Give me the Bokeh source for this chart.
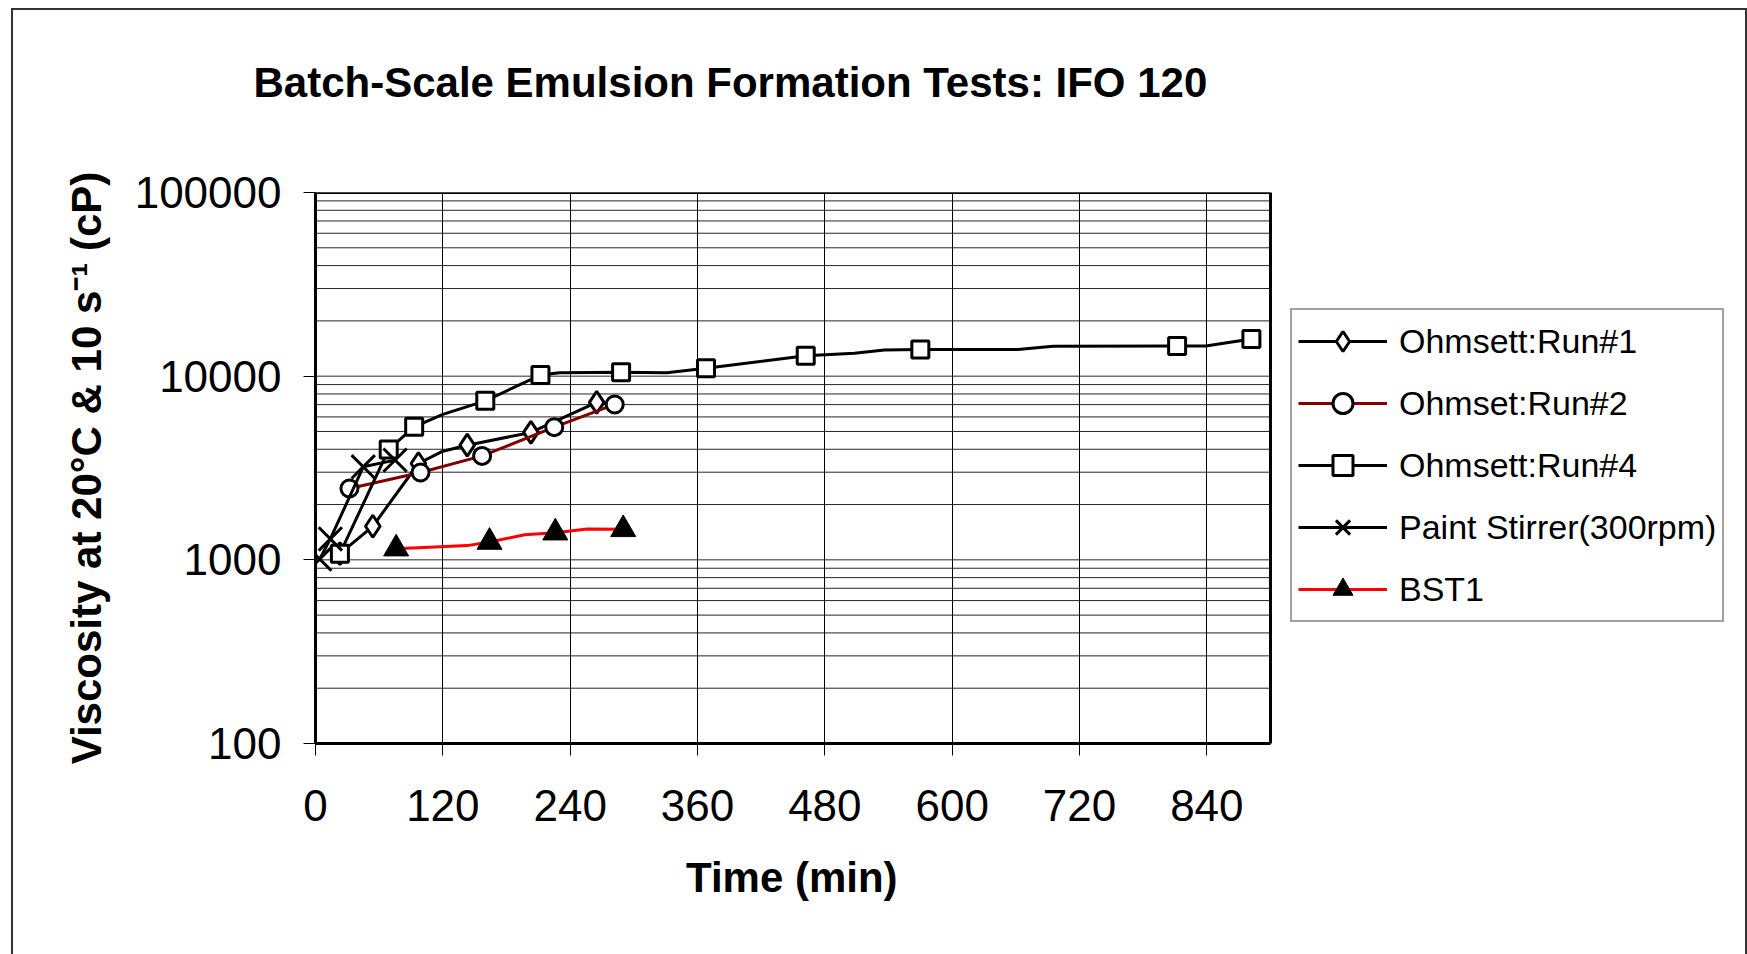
from bokeh.plotting import figure
from bokeh.models import (FixedTicker, BasicTickFormatter, Legend, LegendItem,
                          ColumnDataSource, Range1d, InlineStyleSheet, Title,
                          LinearAxis)
from bokeh.embed import file_html
from bokeh.resources import INLINE

# ---------------- data ----------------
title_text = "Batch-Scale Emulsion Formation Tests: IFO 120"
x_label = "Time (min)"
y_label = "Viscosity at 20\u00b0C & 10 s\u207b\u00b9 (cP)"

x_ticks = [0, 120, 240, 360, 480, 600, 720, 840]
y_ticks = [100, 1000, 10000, 100000]
x_min, x_max = 0, 900
y_min, y_max = 100, 100000

run1_time = [23, 54, 97, 120, 143, 203, 265]
run1_visc = [1080, 1523, 3346, 3905, 4210, 4938, 7195]
run1_marked = [1, 1, 1, 0, 1, 1, 1]

run2_time = [32, 99, 157, 225, 282]
run2_visc = [2444, 2988, 3681, 5278, 7015]
run2_marked = [1, 1, 1, 1, 1]

run4_time = [23, 69, 93, 120, 160, 212, 230, 288, 331, 368, 462, 508, 536, 570,
             662, 695, 812, 839, 882]
run4_visc = [1080, 3990, 5300, 6190, 7340, 10140, 10450, 10490, 10450, 11030,
             12910, 13310, 13880, 13990, 13950, 14550, 14590, 14590, 15930]
run4_marked = [1, 1, 1, 0, 1, 1, 0, 1, 0, 1, 1, 0, 0, 1, 0, 0, 1, 0, 1]

stirrer_time = [4, 14, 45, 75]
stirrer_visc = [1010, 1300, 3210, 3490]
stirrer_marked = [1, 1, 1, 1]

bst1_time = [76, 143, 164, 197, 226, 256, 290]
bst1_visc = [1150, 1195, 1250, 1370, 1405, 1470, 1465]
bst1_marked = [1, 0, 1, 0, 1, 0, 1]

series_names = ["Ohmsett:Run#1", "Ohmset:Run#2", "Ohmsett:Run#4",
                "Paint Stirrer(300rpm)", "BST1"]

# ---------------- layout geometry (pixels) ----------------
FONT = "Liberation Sans"
W, H = 1747, 954
PL, PR, PT, PB = 315, 1270, 192, 743      # plotting-area box on the page
# the frame extends to the right edge (room for the legend); the x range is
# mapped so that [x_min, x_max] lands on the plotting-area box
x_end = x_max + (x_max - x_min) * (W - PR) / (PR - PL)

frame_css = InlineStyleSheet(css="""
:host::after {
  content: "";
  position: absolute;
  left: 11px; top: 8px; right: 0px; bottom: 0px;
  border: 2px solid #333333;
  border-bottom: none;
  box-sizing: border-box;
  pointer-events: none;
  z-index: 10;
}
""")

p = figure(width=W, height=H, output_backend="svg", toolbar_location=None,
           y_axis_type="log", x_range=Range1d(x_min, x_end),
           y_range=Range1d(y_min, y_max),
           min_border_left=PL, min_border_right=0, min_border_top=PT,
           min_border_bottom=H - PB, stylesheets=[frame_css])
p.background_fill_color = "white"
p.border_fill_color = "white"
p.outline_line_color = None
p.ygrid.visible = False

# axes
p.xaxis.ticker = FixedTicker(ticks=x_ticks)
p.yaxis.ticker = FixedTicker(ticks=y_ticks)
p.yaxis.formatter = BasicTickFormatter(use_scientific=False)
p.xaxis.bounds = (x_min, x_max)
for ax in (p.xaxis, p.yaxis):
    ax.axis_line_color = "black"
    ax.axis_line_width = 3
    ax.major_tick_line_color = "black"
    ax.major_tick_line_width = 1
    ax.major_tick_out = 12
    ax.major_tick_in = 0
    ax.minor_tick_line_color = None
    ax.major_label_text_font = FONT
    ax.major_label_text_font_size = "44px"
    ax.major_label_text_color = "black"
    ax.axis_label_text_font = FONT
    ax.axis_label_text_font_size = "42px"
    ax.axis_label_text_font_style = "bold"
    ax.axis_label_text_color = "black"
p.yaxis.axis_label = y_label
p.xaxis.major_label_standoff = 34
p.yaxis.major_label_standoff = 22
p.yaxis.axis_label_standoff = 22

# vertical grid lines (native) and horizontal ones limited to the plot area
p.xgrid.ticker = FixedTicker(ticks=x_ticks)
p.xgrid.grid_line_color = "black"
p.xgrid.grid_line_width = 1
minor = [m * d for d in (100, 1000, 10000) for m in range(2, 10)]
hgrid = y_ticks + minor
p.segment(x0=[x_min] * len(hgrid), x1=[x_max] * len(hgrid), y0=hgrid, y1=hgrid,
          line_color="black", line_width=1, line_alpha=0.85, level="underlay")
# plot-area border
p.quad(left=[x_min], right=[x_max], bottom=[y_min], top=[y_max],
       fill_color=None, line_color="black", line_width=3, level="underlay")

# x-axis title (left-aligned under the plotting area)
x_title_w = 214
p.add_layout(Title(text=x_label, text_font=FONT, text_font_size="42px",
                   text_font_style="bold", text_color="black", align="left",
                   offset=(PR - PL) / 2 - x_title_w / 2, standoff=56), "below")

# invisible spacer axis right above the frame (one white tick, empty label)
spacer = LinearAxis(ticker=FixedTicker(ticks=[x_min]), axis_line_color=None,
                    major_tick_line_color="white", major_tick_in=0,
                    major_tick_out=35, minor_tick_line_color=None,
                    major_label_standoff=0, major_label_text_font_size="1px",
                    major_label_text_color=None,
                    major_label_overrides={x_min: ""})
p.add_layout(spacer, "above")
p.add_layout(Title(text=title_text, text_font=FONT, text_font_size="42px",
                   text_font_style="bold", text_color="black", align="left",
                   offset=-62, standoff=104), "above")

# ---------------- series ----------------
series = [
    (run1_time, run1_visc, run1_marked, dict(line_color="black"),
     dict(marker="diamond", size=22, fill_color="white", line_color="black",
          line_width=3)),
    (run2_time, run2_visc, run2_marked, dict(line_color="#800000"),
     dict(marker="circle", size=17, fill_color="white", line_color="black",
          line_width=3)),
    (run4_time, run4_visc, run4_marked, dict(line_color="black"),
     dict(marker="square", size=17, fill_color="white", line_color="black",
          line_width=3)),
    (stirrer_time, stirrer_visc, stirrer_marked, dict(line_color="black"),
     dict(marker="x", size=33, line_color="black", line_width=3)),
    (bst1_time, bst1_visc, bst1_marked, dict(line_color="#ff0000"),
     dict(marker="triangle", size=25, fill_color="black", line_color="black",
          line_width=1)),
]

items = []
for name, (t, v, mk, lstyle, mstyle) in zip(series_names, series):
    lsrc = ColumnDataSource(dict(t=t, v=v))
    msrc = ColumnDataSource(dict(t=[a for a, m in zip(t, mk) if m],
                                 v=[b for b, m in zip(v, mk) if m]))
    lr = p.line("t", "v", source=lsrc, line_width=3, **lstyle)
    mr = p.scatter("t", "v", source=msrc, **mstyle)
    items.append(LegendItem(label=name, renderers=[lr, mr]))

legend = Legend(items=items, location=(1290 - PL, PB - 622))
legend.label_text_font = FONT
legend.label_text_font_size = "34px"
legend.label_text_color = "black"
legend.glyph_width = 89
legend.glyph_height = 50
legend.label_height = 50
legend.label_standoff = 12
legend.spacing = 12
legend.padding = 6
legend.margin = 0
legend.border_line_color = "#444444"
legend.border_line_width = 2
legend.background_fill_color = "white"
legend.background_fill_alpha = 1
p.add_layout(legend, "center")

open("out.html", "w").write(file_html(p, INLINE))
